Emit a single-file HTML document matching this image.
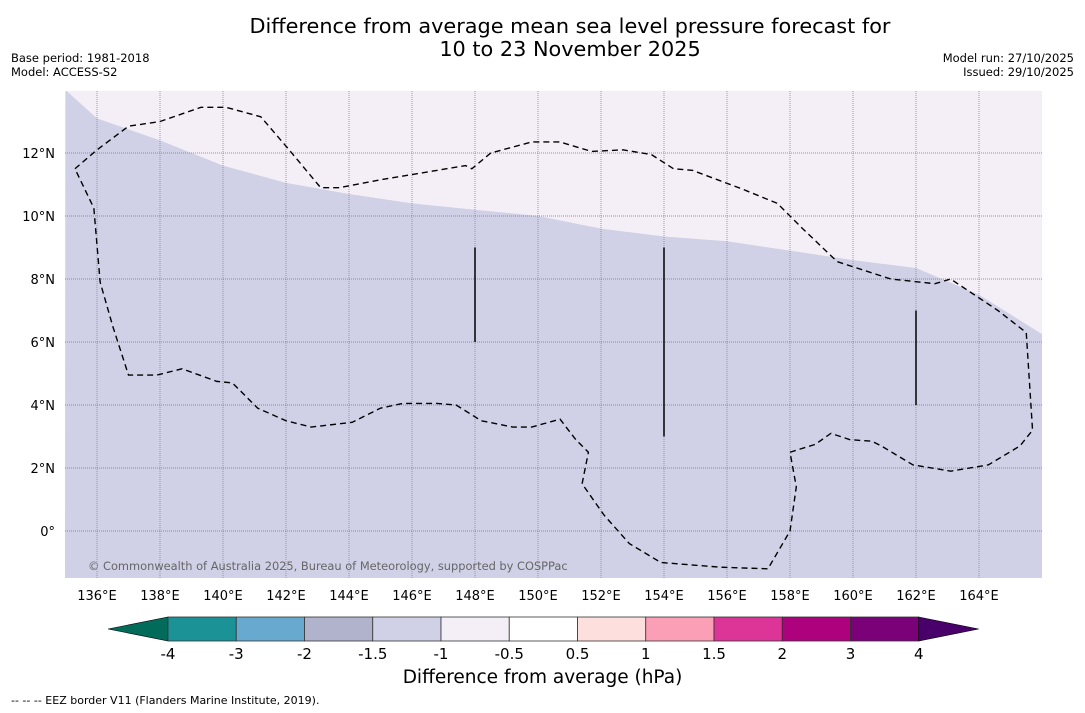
<!DOCTYPE html>
<html><head><meta charset="utf-8"><style>
body{margin:0;background:#fff;font-family:"DejaVu Sans","Liberation Sans",sans-serif;}
#wrap{position:relative;width:1085px;height:713px;overflow:hidden}
.t{position:absolute;color:#000}
</style></head><body>
<div id="wrap">
<div class="t" style="left:0;width:1140px;top:15px;text-align:center;font-size:20.8px;line-height:23px">Difference from average mean sea level pressure forecast for<br>10 to 23 November 2025</div>
<div class="t" style="left:11px;top:51px;font-size:11.5px;line-height:14px">Base period: 1981-2018<br>Model: ACCESS-S2</div>
<div class="t" style="right:11px;top:51px;font-size:11.5px;line-height:14px;text-align:right">Model run: 27/10/2025<br>Issued: 29/10/2025</div>
<svg id="svg" width="1085" height="713" style="position:absolute;left:0;top:0"></svg>
<div class="t" style="left:0;width:1085px;top:667px;text-align:center;font-size:18.5px">Difference from average (hPa)</div>
<div class="t" style="left:11px;top:694px;font-size:11px">--  --  -- EEZ border V11 (Flanders Marine Institute, 2019).</div>
</div>
<script>
const lonTicks=[136,138,140,142,144,146,148,150,152,154,156,158,160,162,164];
const latTicks=[0,2,4,6,8,10,12];
const boundaryLon=[135,136,138,140,142,144,146,148,150,152,154,156,158,160,162,164,166];
const boundaryLat=[14,13.1,12.4,11.6,11.05,10.7,10.4,10.2,10.0,9.6,9.35,9.2,8.9,8.6,8.35,7.5,6.25];
const eezLon=[135.3,136,137,138,139.3,140.1,141.2,142.1,143.1,143.7,145,147.7,147.9,148.5,149.8,150.7,151.7,152.7,153.6,154.3,154.9,156.5,157.6,158.4,159.5,161.2,162.6,163.1,164.6,165.5,165.7,165.3,164.3,163.1,161.9,160.9,160.6,159.9,159.3,158.8,158,158.2,158,157.3,155.8,153.9,152.9,152.1,151.4,151.6,151.2,150.7,149.8,149.2,148.2,147.4,146.8,145.7,145,144.1,142.8,142,141.1,140.3,139.8,138.7,137.9,137,136.5,136.1,135.9,135.3];
const eezLat=[11.5,12.1,12.85,13.0,13.45,13.45,13.15,12.1,10.9,10.9,11.15,11.6,11.5,12.0,12.35,12.35,12.05,12.1,11.95,11.5,11.45,10.85,10.4,9.6,8.55,8.0,7.85,8.0,7.0,6.3,3.2,2.7,2.1,1.9,2.1,2.7,2.85,2.9,3.1,2.75,2.5,1.4,0.0,-1.2,-1.15,-1.0,-0.4,0.5,1.5,2.5,2.9,3.55,3.3,3.3,3.5,4.0,4.05,4.05,3.9,3.45,3.3,3.5,3.9,4.7,4.75,5.15,4.95,4.95,6.5,7.9,10.25,11.5];
const vlineLon=[148,154,162];
const vlineTop=[9,9,7];
const vlineBot=[6,3,4];
const cbEdges=["-4","-3","-2","-1.5","-1","-0.5","0.5","1","1.5","2","3","4"];
const cbColors=["#1b9396","#67a9cf","#b0b3cb","#d0d1e6","#f4eef7","#ffffff","#fde0dd","#fa9fb5","#dd3497","#ae017e","#7a0177"];
const cbLow="#036b5a",cbHigh="#49006a";

const NS="http://www.w3.org/2000/svg";
const svg=document.getElementById('svg');
const X0=65,X1=1042,Y0=91,Y1=578;
const x=lon=>97+(lon-136)*31.5;
const y=lat=>531-lat*31.5;
function mk(t,a,p){const e=document.createElementNS(NS,t);for(const k in a)e.setAttribute(k,a[k]);(p||svg).appendChild(e);return e;}
const clip=mk('clipPath',{id:'cl'});mk('rect',{x:X0,y:Y0,width:X1-X0,height:Y1-Y0},clip);
const g=mk('g',{'clip-path':'url(#cl)'});


const bg=mk('rect',{x:X0,y:Y0,width:X1-X0,height:Y1-Y0,fill:'#f4eef7'},g);


let d='M'+X0+','+Y1;
boundaryLon.forEach((lo,i)=>{d+=' L'+x(lo)+','+y(boundaryLat[i]);});
d+=' L'+X1+','+Y1+' Z';
const zone=mk('path',{d:d,fill:'#d0d1e6'},g);


lonTicks.forEach(lo=>{
 const l=mk('line',{x1:x(lo),x2:x(lo),y1:Y0,y2:Y1,stroke:'#888',"stroke-width":0.8,"stroke-dasharray":'1,1'},g);
 
 
 const t=mk('text',{x:x(lo),y:600,"font-size":13,"text-anchor":'middle',fill:'#000'});t.textContent=lo+'°E';
 
 
});
latTicks.forEach(la=>{
 const l=mk('line',{x1:X0,x2:X1,y1:y(la),y2:y(la),stroke:'#777',"stroke-width":0.8,"stroke-dasharray":'1,1'},g);
 
 
 const t=mk('text',{x:55,y:y(la)+5,"font-size":13,"text-anchor":'end',fill:'#000'});t.textContent=la===0?'0°':la+'°N';
 
 
});
let pd='';eezLon.forEach((lo,i)=>{pd+=(i?' L':'M')+x(lo)+','+y(eezLat[i]);});
const eez=mk('path',{d:pd,fill:'none',stroke:'#000',"stroke-width":1.4,"stroke-dasharray":'6,4'},g);


vlineLon.forEach((lo,i)=>{
 const l=mk('line',{x1:x(lo),x2:x(lo),y1:y(vlineTop[i]),y2:y(vlineBot[i]),stroke:'#000',"stroke-width":1.5},g);
 
 
});
const cp=mk('text',{x:88,y:570,"font-size":11.4,fill:'#666'},g);cp.textContent='© Commonwealth of Australia 2025, Bureau of Meteorology, supported by COSPPac';


const CB0=168,CBW=68.25,CY=617,CH=24;
const lt=mk('polygon',{points:`108,${CY+CH/2} ${CB0},${CY} ${CB0},${CY+CH}`,fill:cbLow,stroke:'#000',"stroke-width":0.6});


cbColors.forEach((c,i)=>{
 const r=mk('rect',{x:CB0+i*CBW,y:CY,width:CBW,height:CH,fill:c,stroke:'#333',"stroke-width":0.8});
 
 
});
const xe=CB0+cbColors.length*CBW;
const rt=mk('polygon',{points:`${xe},${CY} ${xe+60},${CY+CH/2} ${xe},${CY+CH}`,fill:cbHigh,stroke:'#000',"stroke-width":0.6});


cbEdges.forEach((s,i)=>{
 const t=mk('text',{x:CB0+i*CBW,y:659,"font-size":15,"text-anchor":'middle',fill:'#000'});t.textContent=s;
 
 
});
</script>
</body></html>
